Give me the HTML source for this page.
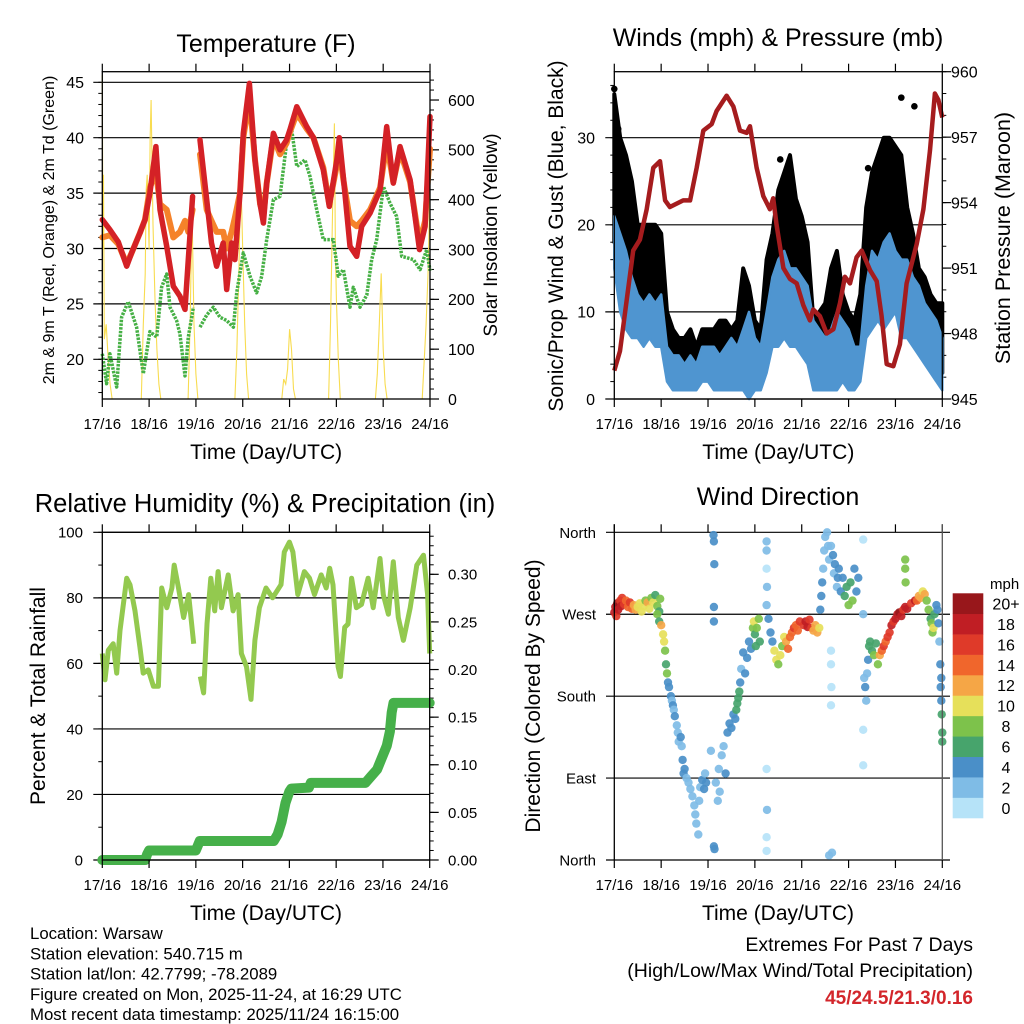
<!DOCTYPE html>
<html><head><meta charset="utf-8"><style>
html,body{margin:0;padding:0;background:#fff;}
svg{display:block;font-family:"Liberation Sans",sans-serif;}
</style></head><body>
<svg id="chart" width="1024" height="1024" viewBox="0 0 1024 1024" xmlns="http://www.w3.org/2000/svg"></svg>
<script>
// ---------- DATA ----------
const dayLabels = ["17/16","18/16","19/16","20/16","21/16","22/16","23/16","24/16"];
// Temperature panel
const tempTimes = [0,3.9,8.2,12.5,15,19.3,21.9,24.4,27.5,29.6,33,36.4,39.8,42.4,44.1,46.3,null,50.1,53.5,56,58.6,62,63.8,66.3,68,70.6,72.3,75.4,78.3,80.9,82.6,84.3,87.7,91.1,94.5,96.2,99.7,104.8,108.2,113.3,116.4,120.2,121.5,123.6,127,130.4,133,137.3,142.4,145.8,149.2,152.6,157.8,162.6,165.5,168];
const tempRed = [32.6,31.7,30.6,28.4,29.6,31.4,32.6,35,39.2,33.5,30.2,26.6,25.7,24.5,29,34.7,null,39.8,34.4,30.5,28.4,30.5,26.3,30.5,29,35,40.4,44.9,38,34,32.3,35.9,40.4,38.9,39.8,40.7,42.8,41,40,37.1,33.8,38,40,36.4,30.2,29.3,32,33.2,35.3,41,35.9,39.2,36.2,29.9,32,41.9];
const tempOrange = [31,31.2,30.4,28.6,29.6,31.4,32.6,35.5,37,34,33.5,31,31.5,32.5,31.5,33.5,null,38.5,33.5,32.5,31.5,31.5,30,31.5,32.8,35,40,43.5,38,34,33,35.9,40,38.5,39.5,40.5,42.2,40.8,40,37.3,34,37.5,39,36.2,32.5,32,32.5,33.5,35.5,39.5,36,38.8,36,30.5,32.5,39];
const dewTimes = [0,2.2,3.9,7.4,9.9,13.3,17.6,21,24.4,27.9,30.4,33,34.7,38.1,39.8,42.4,44.1,46.7,null,50.1,53.5,56.9,60.3,63.8,67.2,68.9,72.3,75.7,79.1,81.7,84.3,87.7,91.1,94.5,97.1,99.7,103.9,106.5,109.9,113.3,118.5,121,123.6,127,128.7,132.1,135.6,138.1,140.7,144.1,147.5,150.9,153.5,159.5,162.9,166.3,168];
const dewGreen = [20.5,17.8,20.5,17.5,23.8,25.2,22.9,18.7,22.5,22,26.5,27.7,24.7,23.5,22.3,18.5,22,24.7,null,22.9,24,24.7,23.8,23.5,22.9,26,29.6,27.5,26,27.5,30.8,34.4,34.7,39.5,40.7,37.4,38,36.5,33.5,30.8,30.8,27.5,28.1,24.7,26.5,24.7,25.8,29,30.8,35.6,34.1,32.9,29.3,29,28.1,29.9,28];
const solarTimes = [0,0.3,0.6,1,2,3,4,5,20,21,22,22.5,23,24,24.5,25,26,27,28,29,30,44,45,46,47,48,49,68,69,70,71,72,73,74,75,92,93,94,95,96,97,98,99,116,117,118,119,119.5,120,121,122,140,141,142,143,144,145,146,164,166,167,168];
const solarValues = [650,300,450,120,150,80,30,0,0,150,250,420,450,300,520,600,350,200,100,30,0,0,150,380,150,50,0,0,100,250,453,300,150,50,0,0,40,30,60,140,100,20,0,0,150,370,553,300,200,80,0,0,50,150,252,100,30,0,0,150,250,426];
// Winds panel
const pressTimes = [0,2.9,6.3,9.7,13.1,16.6,20,23.4,26,28.5,35.3,38.8,42.2,45.6,49.9,52.4,57.5,61,64.4,67.8,69.5,72.9,76.3,79.7,81.4,83.1,86.6,90,93.4,96.8,100.2,101.9,105.3,108.8,112.2,115.6,118.1,120.7,124.1,126.7,131,134.4,136.9,139.5,142.9,146.3,149.7,154.9,158.3,161.7,164.2,166,168];
const pressValues = [946.3,947.2,949.5,951.8,952.3,953.7,955.6,955.9,954.1,953.8,954.1,954.1,955.6,957.3,957.6,958.2,958.9,958.4,957.3,957.2,957.5,955.6,954.3,953.7,954.2,953,951,950.5,950.3,949.3,948.6,949.1,948.8,948,948.2,949.4,950.6,950.3,951.5,951.8,950.9,950.4,948.8,946.6,946.5,947.5,950.3,952.1,953.7,956.4,959,958.7,957.9];
const windTimes = [0,3,6,9,12,15,18,21,24,27,30,33,36,39,42,45,48,51,54,57,60,63,66,69,72,75,78,81,84,87,90,93,96,99,102,105,108,111,114,117,120,123,126,129,132,135,138,141,144,147,150,153,156,159,162,165,168];
const windLow = [15,10,8,7,7,6,7,6,6,2,1,1,1,1,1,2,2,1,1,1,1,1,1,0,1,1,3,6,6,7,6,6,5,4,1,1,1,1,1,2,1,1,2,7,8,9,8,9,10,7,7,6,5,4,3,2,1];
const windHigh = [21,19,17,14,12,11,12,11,12,6,5,5,4,5,4,6,6,6,5,6,7,6,8,10,7,6,10,14,16,17,15,15,14,13,9,8,7,8,10,9,8,6,6,13,17,16,18,19,17,16,16,14,13,11,10,9,7];
const gustLow = [18,17,15,12,10,9,10,9,8,4,3,2,2,2,2,3,3,3,3,3,3,3,3,2,2,2,6,10,11,12,12,11,10,8,4,4,3,3,3,3,3,2,3,10,13,14,12,14,13,12,10,8,6,5,4,3,3];
const gustHigh = [35,30,28,25,20,20,20,20,19,10,8,7,7,8,6,8,8,8,9,9,8,9,15,13,9,8,16,19,24,26,28,23,21,18,9,10,11,15,17,12,10,9,12,22,26,28,30,30,29,28,22,19,15,14,12,11,11];
const gustOutTimes = [0,1,2,147,153.7,85,130];
const gustOutValues = [35.6,32,31,34.6,33.6,27.5,26.5];
// RH / precipitation panel
const rhTimes = [0,1.4,3.1,5.6,7.4,9.1,12.5,14.2,16.8,19.3,21,23.6,26.2,28.8,30.5,33.1,35.7,36.9,39.1,41.7,44.3,46.9,null,50.3,52,53.7,55.7,57.7,59.4,61.1,64.6,67.1,69.7,71.4,74,76.3,78.3,80.6,84,87.4,91.7,93.4,96,97.8,100.3,103.7,106.3,108.9,112.3,114.9,116.7,118.4,121,122.2,124.4,126.1,127.9,130.4,133,136.4,139,142.5,144.2,146.8,149.3,151.9,154.5,158,161.4,164.8,166.9,168];
const rhValues = [63,55,64,66,57,70,86,84,76,65,57,58,53,53,83,77,83,90,83,74,81,66,null,56,51,72,86,76,88,77,87,76,81,63,59,49,67,77,83,80,84,94,97,94,81,88,86,81,87,83,89,84,59,56,71,72,86,77,78,86,77,92,81,75,91,74,67,77,90,93,81,63];
const rainTimes = [0,22,23,24,48,49,50,88,90,92,94,96,97,106,107,135,138,141,144,146,147.6,148.5,149.4,168];
const rainValues = [0,0,0.006,0.01,0.01,0.015,0.02,0.02,0.027,0.04,0.06,0.072,0.075,0.076,0.081,0.081,0.088,0.095,0.11,0.12,0.135,0.155,0.165,0.165];
// Wind direction panel: [hour, degrees, speed mph]
const dirObs = [[0,272,18],[0.5,278,19],[1,268,17],[1.5,282,20],[2,275,18],[3,285,16],[3.5,279,19],[4,288,17],[5,281,16],[6,285,15],[7,278,14],[8,283,16],[9,276,15],[10,280,13],
[11,275,12],[12,278,11],[13,282,10],[14,273,10],[15,279,11],[16,285,9],[17,283,12],[18,276,10],[19,288,8],[20,283,10],[21,291,7],[22,279,9],[23,273,7],[23.5,287,8],
[22,270,9],[23,262,7],[24,258,13],[25,248,11],[25.5,240,10],[26,230,8],[26.5,215,7],[27,205,8],[27.5,195,5],
[28,190,4],[29,180,4],[29.5,175,3],[30,170,5],[30.5,165,3],[31,158,4],[32,148,2],
[32.5,140,3],[33,130,3],[34,135,4],[34.5,125,2],[35,110,4],[35.5,95,4],[36,100,5],[37,90,3],[38,85,2],[39,78,3],[40,70,3],
[41,60,2],[41.5,50,3],[42,40,2],[43,28,2],[43.5,65,3],[44,80,2],[45,88,4],[46,78,4],[46.5,95,3],[47,85,4],
[50.8,357,4],[51,350,4],[51.2,325,4],[51,278,4],[51,262,4],[51,15,4],[51.3,12,4],[49.5,120,2],
[52,85,2],[53,65,3],[53.5,100,2],[54,75,3],[55,115,3],[56,125,2],[57,95,4],
[58,140,4],[59,150,4],[60,145,4],[61,160,4],[62,155,5],
[62.5,165,6],[63,172,6],[63.5,178,6],[64,185,6],
[64.5,195,4],[65,210,3],[66,228,4],[67,205,4],[68,222,4],[69,240,5],[70,232,4],
[71,255,8],[71.5,262,10],[72,248,7],[72.5,235,6],[73,255,8],[74,265,9],[74.5,240,6],
[78,340,2],[78,320,1],[78.2,300,2],[78,350,3],[78,280,2],[78,100,1],[78.2,55,2],[78,25,1],[78,10,1],[79,265,4],[80,250,4],[81,240,4],
[82,230,10],[83,220,11],[84,215,9],[85,225,10],[86,235,8],[87,245,10],
[88,240,13],[89,232,14],[90,245,15],[91,250,14],[92,255,16],[93,258,15],[94,252,14],[95,262,16],
[97,258,17],[98,262,19],[99,256,18],[100,264,17],[101,255,16],
[102,252,12],[103,258,13],[104,250,12],[105,255,11],
[105.5,275,4],[106,290,4],[106.5,305,4],[107,320,3],[107.5,340,3],[108,355,3],[109,360,2],[109.5,345,3],
[110,330,2],[111,345,3],[112,335,4],[112.5,315,2],[113,325,4],[114,300,3],[114.5,310,4],[115,320,4],
[111,230,1],[111,215,1],[111.2,190,1],[111,170,0],[110,5,3],[111.5,8,3],
[116,295,5],[117,310,4],[118,290,7],[119,300,6],[120,280,8],[121,305,6],[122,285,8],[123,320,4],[124,295,5],[125,310,4],
[127.5,352,1],[127.5,270,2],[127.5,143,1],[127.5,104,1],
[128,200,3],[128.5,190,4],[129,175,3],[129.5,205,3],[130,220,5],[130.5,235,6],
[131,240,6],[132,230,7],[133,225,8],[134,238,7],[135,215,8],
[136,225,12],[137,230,14],[138,235,16],[139,240,15],[140,245,17],[141,250,16],[142,258,18],[143,262,17],
[144,265,19],[145,270,18],[146,272,20],[147,268,18],[148,275,17],[149,278,19],[150,276,18],[152,282,16],[154,285,18],
[149,330,8],[149,320,8],[149.2,305,8],
[155,285,14],[156,290,13],[157,288,12],[158,295,11],[159,292,12],[160,285,8],
[161,275,8],[162,265,7],[162.5,260,8],[163,250,9],[163.5,255,10],[164,270,6],[165,280,4],
[165.5,275,4],[166,260,4],[166.5,240,3],[167,215,4],[167.2,190,4],[167.5,175,5],[167.7,160,6],[168,140,6],[168,130,6],[167.5,200,4]];
const speedBinLabels = ["0","2","4","6","8","10","12","14","16","18","20+"];
const speedColors = ["#b6e3f8","#7fbce6","#4a8fc8","#47a46c","#7dc24b","#e6e05a","#f5a646","#f0662c","#df3a29","#c01e24","#98171b"];

// ---------- HELPERS ----------
const NS = "http://www.w3.org/2000/svg";
const svg = document.getElementById("chart");
function mk(tag, attrs, parent) {
  const e = document.createElementNS(NS, tag);
  for (const k in attrs) e.setAttribute(k, attrs[k]);
  (parent || svg).appendChild(e);
  return e;
}
function txt(s, x, y, size, anchor, parent, extra) {
  const a = Object.assign({x: x, y: y, "font-size": size, "text-anchor": anchor || "start", fill: "#000"}, extra || {});
  const t = mk("text", a, parent);
  t.textContent = s;
  return t;
}
function linePath(ts, vs, xf, yf) {
  let d = "", pen = false;
  for (let i = 0; i < ts.length; i++) {
    if (ts[i] === null || vs[i] === null) { pen = false; continue; }
    d += (pen ? "L" : "M") + xf(ts[i]).toFixed(1) + "," + yf(vs[i]).toFixed(1);
    pen = true;
  }
  return d;
}
function bandPath(ts, lo, hi, xf, yf) {
  let d = "";
  ts.forEach((t, i) => { d += (i ? "L" : "M") + xf(t).toFixed(1) + "," + yf(hi[i]).toFixed(1); });
  for (let i = ts.length - 1; i >= 0; i--) d += "L" + xf(ts[i]).toFixed(1) + "," + yf(lo[i]).toFixed(1);
  return d + "Z";
}
function xScale(x0, x1) { return t => x0 + t / 168 * (x1 - x0); }

function frame(g, x0, x1, yT, yB, xf, name) {
  for (let i = 0; i < 8; i++) {
    const x = xf(i * 24);
    mk("line", {x1: x, y1: yT - 8, x2: x, y2: yT, stroke: "#000", "stroke-width": 1.2}, g);
    mk("line", {x1: x, y1: yB, x2: x, y2: yB + 8, stroke: "#000", "stroke-width": 1.2}, g);
    const lab = txt(dayLabels[i], x, yB + 30, 15, "middle", g);
    
    
  }
  const r = mk("rect", {x: x0, y: yT, width: x1 - x0, height: yB - yT, fill: "none", stroke: "#000", "stroke-width": 1.3}, g);
  
  
  const xt = txt("Time (Day/UTC)", (x0 + x1) / 2, yB + 60, 21, "middle", g);
  
  
}
function leftAxis(g, x0, x1, ticks, yf, minorStep, vmin, vmax, labX, fs, fmt, grid) {
  for (let v = vmin; v <= vmax + 1e-9; v += minorStep) {
    const y = yf(v);
    mk("line", {x1: x0 - 4, y1: y, x2: x0, y2: y, stroke: "#000", "stroke-width": 1}, g);
  }
  ticks.forEach(v => {
    const y = yf(v);
    mk("line", {x1: x0 - 9, y1: y, x2: grid ? x1 : x0, y2: y, stroke: "#000", "stroke-width": 1.2}, g);
    const l = txt(fmt ? fmt(v) : String(v), labX, y + fs * 0.36, fs, "end", g);
    
    
  });
}
function rightAxis(g, x1, ticks, yf, minorStep, vmin, vmax, labX, fs, fmt) {
  for (let v = vmin; v <= vmax + 1e-9; v += minorStep) {
    const y = yf(v);
    mk("line", {x1: x1, y1: y, x2: x1 + 4, y2: y, stroke: "#000", "stroke-width": 1}, g);
  }
  ticks.forEach(v => {
    const y = yf(v);
    mk("line", {x1: x1, y1: y, x2: x1 + 9, y2: y, stroke: "#000", "stroke-width": 1.2}, g);
    const l = txt(fmt ? fmt(v) : String(v), labX, y + fs * 0.36, fs, "start", g);
    
    
  });
}
function vtitle(g, s, x, y, fs, name) {
  const t = txt(s, 0, 0, fs, "middle", g, {transform: "translate(" + x + "," + y + ") rotate(-90)"});
  
  
}

// ---------- PANEL 1: Temperature ----------
(function () {
  const g = mk("g", {});
  
  
  const x0 = 102.3, x1 = 430, yT = 71.7, yB = 399;
  const xf = xScale(x0, x1);
  const yL = v => 359.3 - (v - 20) * 11.08;
  const yR = v => 399 - v * 0.4983;
  const title = txt("Temperature (F)", 266, 52, 25, "middle", g);
  
  
  leftAxis(g, x0, x1, [20,25,30,35,40,45], yL, 1, 17, 45, 84, 16, null, true);
  rightAxis(g, x1, [0,100,200,300,400,500,600], yR, 20, 0, 640, 448, 16, null);
  const sol = mk("path", {d: linePath(solarTimes, solarValues, xf, yR), fill: "none", stroke: "#f8dc50", "stroke-width": 1.1}, g);
  
  
  const dew = mk("path", {d: linePath(dewTimes, dewGreen, xf, yL), fill: "none", stroke: "#46b045", "stroke-width": 3.5, "stroke-dasharray": "2.5,1.2", "stroke-linejoin": "round"}, g);
  
  
  const or = mk("path", {d: linePath(tempTimes, tempOrange, xf, yL), fill: "none", stroke: "#f5822a", "stroke-width": 6, "stroke-linejoin": "round", "stroke-linecap": "round"}, g);
  
  
  const rd = mk("path", {d: linePath(tempTimes, tempRed, xf, yL), fill: "none", stroke: "#d42126", "stroke-width": 5.5, "stroke-linejoin": "round", "stroke-linecap": "round"}, g);
  
  
  frame(g, x0, x1, yT, yB, xf, "temperature");
  vtitle(g, "2m & 9m T (Red, Orange) & 2m Td (Green)", 54, 230, 16, "y-axis-title");
  vtitle(g, "Solar Insolation (Yellow)", 497, 235, 19, "y2-axis-title");
})();

// ---------- PANEL 2: Winds & Pressure ----------
(function () {
  const g = mk("g", {});
  
  
  const x0 = 614.3, x1 = 942.3, yT = 71.7, yB = 399;
  const xf = xScale(x0, x1);
  const yW = v => 399 - v * 8.71;
  const yP = p => 399 - (p - 945) * 21.82;
  const title = txt("Winds (mph) & Pressure (mb)", 778, 46, 25, "middle", g);
  
  
  leftAxis(g, x0, x1, [0,10,20,30], yW, 2, 0, 36, 595, 16, null, true);
  rightAxis(g, x1, [945,948,951,954,957,960], yP, 1, 945, 960, 951, 16, null);
  const gb = mk("path", {d: bandPath(windTimes, gustLow, gustHigh, xf, yW), fill: "#000", stroke: "#000", "stroke-width": 4, "stroke-linejoin": "round"}, g);
  
  
  gustOutTimes.forEach((t, i) => {
    const c = mk("circle", {cx: xf(t), cy: yW(gustOutValues[i]), r: 3.3, fill: "#000"}, g);
    
    
  });
  const wb = mk("path", {d: bandPath(windTimes, windLow, windHigh, xf, yW), fill: "#4f95d0", stroke: "#4f95d0", "stroke-width": 2.5, "stroke-linejoin": "round"}, g);
  
  
  const pl = mk("path", {d: linePath(pressTimes, pressValues, xf, yP), fill: "none", stroke: "#a51c1e", "stroke-width": 4.5, "stroke-linejoin": "round"}, g);
  
  
  frame(g, x0, x1, yT, yB, xf, "winds");
  vtitle(g, "Sonic/Prop Wind & Gust (Blue, Black)", 563, 236, 21, "y-axis-title");
  vtitle(g, "Station Pressure (Maroon)", 1010, 238, 21.5, "y2-axis-title");
})();

// ---------- PANEL 3: RH & Precip ----------
(function () {
  const g = mk("g", {});
  
  
  const x0 = 102.3, x1 = 429.7, yT = 532.3, yB = 860;
  const xf = xScale(x0, x1);
  const yH = v => 860 - v * 3.277;
  const yPr = v => 860 - v * 952.3;
  const title = txt("Relative Humidity (%) & Precipitation (in)", 265, 512, 25.5, "middle", g);
  
  
  leftAxis(g, x0, x1, [0,20,40,60,80,100], yH, 10, 0, 100, 83, 15, null, true);
  rightAxis(g, x1, [0,0.05,0.1,0.15,0.2,0.25,0.3], yPr, 0.01, 0, 0.34, 448, 15, v => v.toFixed(2));
  const rh = mk("path", {d: linePath(rhTimes, rhValues, xf, yH), fill: "none", stroke: "#93c94f", "stroke-width": 5, "stroke-linejoin": "round"}, g);
  
  
  const pr = mk("path", {d: linePath(rainTimes, rainValues, xf, yPr), fill: "none", stroke: "#46b04a", "stroke-width": 10, "stroke-linejoin": "round", "stroke-linecap": "round"}, g);
  
  
  frame(g, x0, x1, yT, yB, xf, "humidity");
  vtitle(g, "Percent & Total Rainfall", 45, 696, 21, "y-axis-title");
})();

// ---------- PANEL 4: Wind Direction ----------
(function () {
  const g = mk("g", {});
  
  
  const x0 = 614.3, x1 = 942.3, yT = 532.3, yB = 860;
  const xf = xScale(x0, x1);
  const yD = d => 860 - d * 0.9102;
  const title = txt("Wind Direction", 778, 505, 25, "middle", g);
  
  
  const dirNames = ["North","East","South","West","North"];
  dirNames.forEach((n, i) => {
    const y = yD(i * 90);
    mk("line", {x1: 606, y1: y, x2: 950, y2: y, stroke: "#000", "stroke-width": 1.2}, g);
    const l = txt(n, 596, y + 5.5, 15, "end", g);
    
    
  });
  dirObs.forEach(o => {
    const bin = Math.min(10, Math.max(0, Math.floor(o[2] / 2)));
    const c = mk("circle", {cx: xf(o[0]).toFixed(1), cy: yD(o[1]).toFixed(1), r: 4.2, fill: speedColors[bin], "fill-opacity": 0.92}, g);
    
    
  });
  for (let i = 0; i < 8; i++) {
    const x = xf(i * 24);
    mk("line", {x1: x, y1: yT - 8, x2: x, y2: yT, stroke: "#000", "stroke-width": 1.2}, g);
    mk("line", {x1: x, y1: yB, x2: x, y2: yB + 8, stroke: "#000", "stroke-width": 1.2}, g);
    const lab = txt(dayLabels[i], x, yB + 30, 15, "middle", g);
    
    
  }
  mk("line", {x1: x0, y1: yT - 8, x2: x0, y2: yB, stroke: "#000", "stroke-width": 1.3}, g);
  mk("line", {x1: x1, y1: yT - 8, x2: x1, y2: yB, stroke: "#555", "stroke-width": 1.3}, g);
  const xt = txt("Time (Day/UTC)", 778, 920, 21, "middle", g);
  
  
  vtitle(g, "Direction (Colored By Speed)", 540, 696, 21, "y-axis-title");
  const cb = mk("g", {}, g);
  
  
  const cbTop = 593.3, cbBot = 818, h = (cbBot - cbTop) / speedColors.length;
  speedColors.forEach((c, i) => {
    const y = cbBot - (i + 1) * h;
    const r = mk("rect", {x: 952.7, y: y, width: 30.6, height: h + 0.3, fill: c}, cb);
    
    
    const l = txt(speedBinLabels[i], 1006, y + h / 2 + 6, 16, "middle", cb);
    
    
  });
  const mph = txt("mph", 990, 589, 15, "start", cb);
  
  
})();

// ---------- FOOTER TEXT ----------
(function () {
  const g = mk("g", {});
  
  
  const lines = ["Location: Warsaw","Station elevation: 540.715 m","Station lat/lon: 42.7799; -78.2089","Figure created on Mon, 2025-11-24, at 16:29 UTC","Most recent data timestamp: 2025/11/24 16:15:00"];
  lines.forEach((s, i) => {
    const t = txt(s, 30, 939 + i * 20.3, 16.8, "start", g);
    
    
  });
  const g2 = mk("g", {});
  
  
  const a = txt("Extremes For Past 7 Days", 973, 951, 19.5, "end", g2);
  
  
  const b = txt("(High/Low/Max Wind/Total Precipitation)", 973, 977, 19.5, "end", g2);
  
  
  const c = txt("45/24.5/21.3/0.16", 973, 1004, 19, "end", g2, {fill: "#d3262b", "font-weight": "bold"});
  
  
})();
</script>
</body></html>
